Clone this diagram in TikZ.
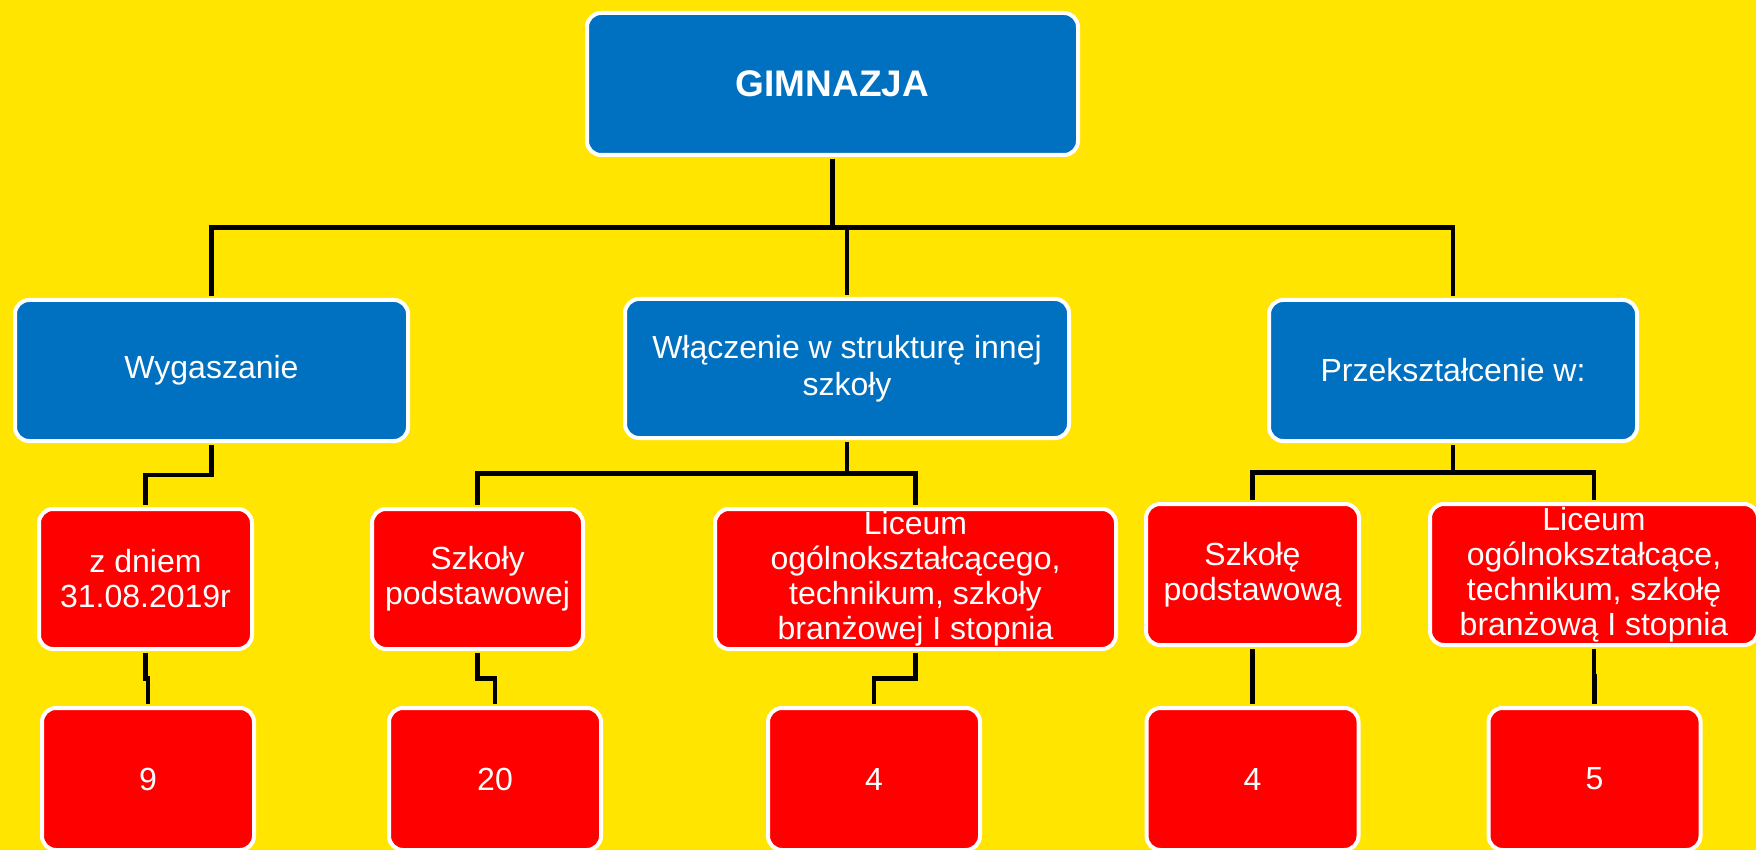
\documentclass[tikz,border=0pt]{standalone}
\usepackage{fontspec}
\setmainfont{Liberation Sans}
\usepackage{tikz}
\usetikzlibrary{calc}
\definecolor{bgyellow}{HTML}{FFE500}
\definecolor{boxblue}{HTML}{0070C0}
\definecolor{boxred}{HTML}{FF0000}

\begin{document}
\begin{tikzpicture}[
x=1pt, y=-1pt,
box/.style = {shape=rectangle,
	draw=white, line width=4pt,
	rounded corners=14pt,
	text=white,
	align=center,
	inner sep=0pt
	},
bluebox/.style = {box, fill=boxblue, font=\fontsize{32}{37}\selectfont},
redbox/.style = {box, fill=boxred, font=\fontsize{32}{35}\selectfont},
elbow/.style = {to path={|- ($(\tikztostart)!0.5!(\tikztotarget)$) -| (\tikztotarget)}}
]
\useasboundingbox (0,0) rectangle (1756,850);
\fill[bgyellow] (0,0) rectangle (1756,850);

\node[bluebox, minimum width=491pt, minimum height=142pt,
	font=\bfseries\fontsize{37}{42}\selectfont] (gim) at (832.5,84) {GIMNAZJA};

% second row
\node[bluebox, minimum width=393pt, minimum height=141pt] (wyg) at (211.5,370.5)
	{Wygaszanie};
\node[bluebox, minimum width=444pt, minimum height=139pt] (wlacz) at (847,368.5)
	{Włączenie w strukturę innej\\szkoły};
\node[bluebox, minimum width=368pt, minimum height=141pt] (przek) at (1453,370.5)
	{Przekształcenie w:};

% third row
\node[redbox, minimum width=213pt, minimum height=140pt] (zdn) at (145.5,579)
	{z dniem\\31.08.2019r};
\node[redbox, minimum width=211pt, minimum height=140pt] (szpodst) at (477.5,579)
	{Szkoły\\podstawowej};
\node[redbox, minimum width=401pt, minimum height=140pt] (lic) at (915.5,579)
	{Liceum\\ogólnokształcącego,\\technikum, szkoły\\branżowej I stopnia};
\node[redbox, minimum width=213pt, minimum height=141pt] (szkole) at (1252.5,574.5)
	{Szkołę\\podstawową};
\node[redbox, minimum width=328pt, minimum height=141pt] (licnew) at (1594,574.5)
	{Liceum\\ogólnokształcące,\\technikum, szkołę\\branżową I stopnia};

% numbers
\node[redbox, minimum width=212pt, minimum height=142pt] (nwyg) at (148,779) {9};
\node[redbox, minimum width=212pt, minimum height=142pt] (nszp) at (495,779) {20};
\node[redbox, minimum width=212pt, minimum height=142pt] (nlic) at (874,779) {4};
\node[redbox, minimum width=212pt, minimum height=142pt] (nszk) at (1252.5,779) {4};
\node[redbox, minimum width=212pt, minimum height=142pt] (nlicnew) at (1594.5,779) {5};

\draw[black, line width=4.5pt, elbow, shorten <=2pt, shorten >=2pt]
(gim.south) edge (wyg.north)
(gim.south) edge (wlacz.north)
(gim.south) edge (przek.north)
(wyg.south) edge (zdn.north)
(wlacz.south) edge (szpodst.north)
(wlacz.south) edge (lic.north)
(przek.south) edge (szkole.north)
(przek.south) edge (licnew.north)
(zdn.south) edge (nwyg.north)
(szpodst.south) edge (nszp.north)
(lic.south) edge (nlic.north)
(szkole.south) edge (nszk.north)
(licnew.south) edge (nlicnew.north);
\end{tikzpicture}
\end{document}
